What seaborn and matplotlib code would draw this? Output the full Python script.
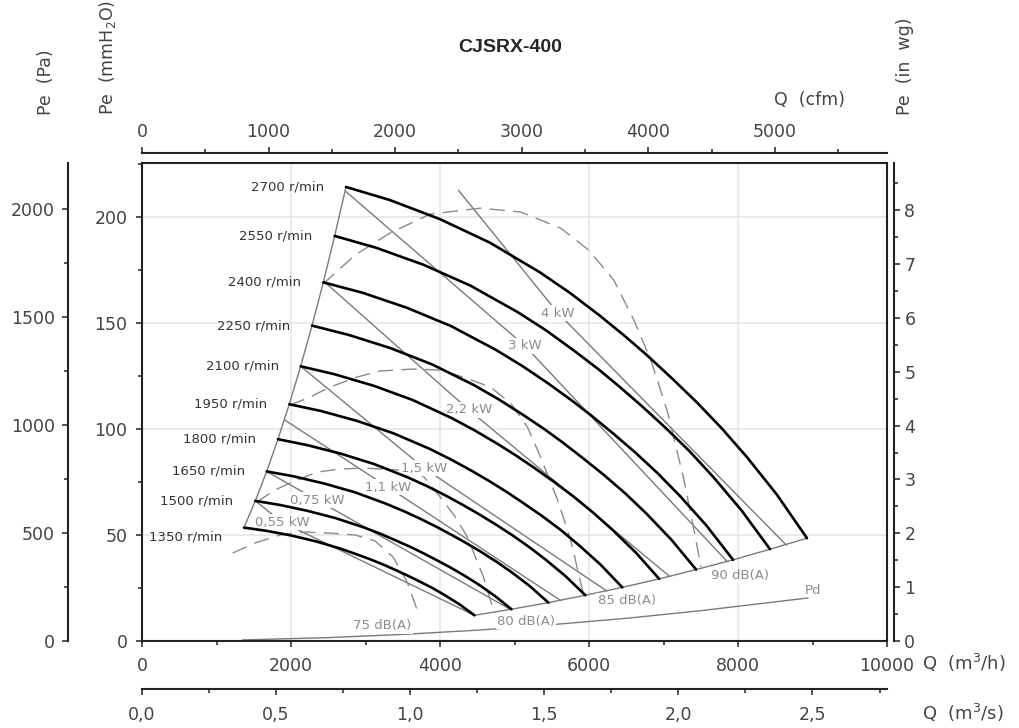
import matplotlib
matplotlib.use('Agg')
import matplotlib.pyplot as plt
from matplotlib.ticker import MultipleLocator, FuncFormatter
import pandas as pd
import seaborn as sns

# fan curves: Q in m3/h, Pe in mmH2O, one list per speed
speeds = [2700, 2550, 2400, 2250, 2100, 1950, 1800, 1650, 1500, 1350]
curve_q = [
    [2738, 3329, 4000, 4671, 5342, 5745, 6148, 6483, 6779, 7114, 7450, 7785, 8121, 8523, 8926],
    [2586, 3144, 3778, 4411, 5045, 5426, 5806, 6123, 6402, 6719, 7036, 7353, 7670, 8050, 8430],
    [2434, 2959, 3556, 4152, 4748, 5107, 5465, 5763, 6026, 6324, 6622, 6920, 7219, 7576, 7934],
    [2282, 2774, 3333, 3893, 4452, 4788, 5123, 5403, 5649, 5928, 6208, 6488, 6768, 7103, 7438],
    [2130, 2589, 3111, 3633, 4155, 4468, 4782, 5042, 5273, 5533, 5794, 6055, 6316, 6629, 6942],
    [1977, 2404, 2889, 3374, 3858, 4149, 4440, 4682, 4896, 5138, 5381, 5623, 5865, 6156, 6447],
    [1825, 2219, 2667, 3114, 3561, 3830, 4099, 4322, 4519, 4743, 4967, 5190, 5414, 5682, 5951],
    [1673, 2034, 2444, 2855, 3265, 3511, 3757, 3962, 4143, 4347, 4553, 4758, 4963, 5209, 5455],
    [1521, 1849, 2222, 2595, 2968, 3192, 3416, 3602, 3766, 3952, 4139, 4325, 4512, 4735, 4959],
    [1369, 1665, 2000, 2336, 2671, 2873, 3074, 3242, 3390, 3557, 3725, 3893, 4061, 4262, 4463],
]
curve_p = [
    [214.2, 208.0, 199.0, 187.9, 173.9, 164.2, 153.4, 143.8, 134.8, 123.9, 112.5, 100.2, 86.7, 69.0, 48.5],
    [191.1, 185.5, 177.5, 167.6, 155.1, 146.5, 136.8, 128.3, 120.2, 110.5, 100.3, 89.4, 77.3, 61.5, 43.3],
    [169.2, 164.3, 157.2, 148.5, 137.4, 129.7, 121.2, 113.6, 106.5, 97.9, 88.9, 79.2, 68.5, 54.5, 38.3],
    [148.8, 144.4, 138.2, 130.5, 120.8, 114.0, 106.5, 99.9, 93.6, 86.0, 78.1, 69.6, 60.2, 47.9, 33.7],
    [129.6, 125.8, 120.4, 113.7, 105.2, 99.3, 92.8, 87.0, 81.5, 75.0, 68.1, 60.6, 52.4, 41.7, 29.3],
    [111.7, 108.5, 103.8, 98.0, 90.7, 85.6, 80.0, 75.0, 70.3, 64.6, 58.7, 52.3, 45.2, 36.0, 25.3],
    [95.2, 92.4, 88.4, 83.5, 77.3, 73.0, 68.2, 63.9, 59.9, 55.1, 50.0, 44.5, 38.5, 30.7, 21.6],
    [80.0, 77.7, 74.3, 70.2, 64.9, 61.3, 57.3, 53.7, 50.3, 46.3, 42.0, 37.4, 32.4, 25.8, 18.1],
    [66.1, 64.2, 61.4, 58.0, 53.7, 50.7, 47.3, 44.4, 41.6, 38.2, 34.7, 30.9, 26.8, 21.3, 15.0],
    [53.5, 52.0, 49.8, 47.0, 43.5, 41.0, 38.4, 36.0, 33.7, 31.0, 28.1, 25.1, 21.7, 17.3, 12.1],
]

# absorbed power lines: start, point at the label, end
kw_labels = ['0,55 kW', '0,75 kW', '1,1 kW', '1,5 kW', '2,2 kW', '3 kW', '4 kW']
kw_q = [
    [1521, 1879, 4463],
    [1673, 2349, 4950],
    [1918, 3302, 5620],
    [2130, 3785, 6238],
    [2440, 4389, 7085],
    [2738, 5141, 7857],
    [4246, 5584, 8647],
]
kw_p = [
    [66.1, 56.1, 12.1],
    [80.0, 66.5, 14.8],
    [104.2, 72.6, 19.1],
    [129.6, 81.6, 23.6],
    [169.7, 109.0, 30.4],
    [212.0, 139.2, 37.4],
    [212.7, 154.7, 45.3],
]

# sound level lines (dashed)
db_labels = ['75 dB(A)', '80 dB(A)', '85 dB(A)', '90 dB(A)']
db_q = [
    [1218, 1514, 1851, 2187, 2524, 2860, 3129, 3371, 3560, 3694],
    [1541, 1783, 1985, 2349, 2658, 2968, 3425, 3775, 4004, 4206, 4367, 4583, 4717],
    [1985, 2227, 2524, 2887, 3197, 3641, 4004, 4314, 4677, 4946, 5175, 5350, 5579, 5754, 5929],
    [2429, 2860, 3331, 3869, 4542, 5081, 5619, 5996, 6332, 6602, 6830, 7059, 7275, 7409, 7503],
]
db_p = [
    [41.5, 46.2, 50.0, 51.4, 50.9, 50.0, 47.2, 39.6, 27.8, 14.6],
    [65.6, 71.2, 74.5, 79.7, 81.1, 81.6, 80.7, 77.8, 67.9, 58.5, 49.1, 30.2, 14.6],
    [111.3, 114.6, 119.8, 124.5, 127.4, 128.3, 127.8, 124.5, 119.8, 112.3, 100.9, 86.8, 66.5, 47.6, 21.5],
    [168.4, 182.1, 192.5, 201.4, 204.2, 202.4, 194.8, 184.4, 170.3, 151.4, 132.5, 107.5, 75.9, 52.4, 34.9],
]

# dynamic pressure
pd_q = [1350, 2500, 3500, 4500, 5500, 6500, 7500, 8940]
pd_p = [0.5, 1.6, 3.1, 5.1, 7.7, 10.7, 14.3, 20.3]

Q_MAX = 10000
P_MAX = 225.5

sns.set_style('white')
plt.rcParams['font.family'] = ['DejaVu Sans']
plt.rcParams['mathtext.fontset'] = 'dejavusans'

W, H = 1019, 728
fig = plt.figure(figsize=(W / 100, H / 100), dpi=100)


def fx(px):
    return px / W


def fy(py):
    return 1 - py / H


ax = fig.add_axes([fx(142), fy(641), fx(887) - fx(142), fy(163) - fy(641)])

tick_col = '#333333'
lab_col = '#444444'
grey = '#7a7a7a'

# long tables for seaborn
fan_df = pd.DataFrame([
    {'rpm': n, 'Q': q, 'P': p}
    for n, qs, ps in zip(speeds, curve_q, curve_p)
    for q, p in zip(qs, ps)
])
kw_df = pd.DataFrame([
    {'line': lab, 'Q': q, 'P': p}
    for lab, qs, ps in zip(kw_labels, kw_q, kw_p)
    for q, p in zip(qs, ps)
])
db_df = pd.DataFrame([
    {'line': lab, 'Q': q, 'P': p}
    for lab, qs, ps in zip(db_labels, db_q, db_p)
    for q, p in zip(qs, ps)
])
start_df = pd.DataFrame({'Q': [qs[0] for qs in curve_q], 'P': [ps[0] for ps in curve_p]})
end_df = pd.DataFrame({'Q': [qs[-1] for qs in curve_q], 'P': [ps[-1] for ps in curve_p]})
pd_df = pd.DataFrame({'Q': pd_q, 'P': pd_p})

sns.lineplot(data=kw_df, x='Q', y='P', units='line', estimator=None, sort=False,
             color=grey, linewidth=1.0, ax=ax, zorder=2)
sns.lineplot(data=db_df, x='Q', y='P', units='line', estimator=None, sort=False,
             color='#8a8a8a', linewidth=1.0, linestyle=(0, (11, 6)), ax=ax, zorder=2)
sns.lineplot(data=start_df, x='Q', y='P', sort=False, color=grey, linewidth=1.0, ax=ax, zorder=2)
sns.lineplot(data=end_df, x='Q', y='P', sort=False, color=grey, linewidth=1.0, ax=ax, zorder=2)
sns.lineplot(data=pd_df, x='Q', y='P', sort=False, color=grey, linewidth=1.0, ax=ax, zorder=2)
sns.lineplot(data=fan_df, x='Q', y='P', units='rpm', estimator=None, sort=False,
             color='black', linewidth=1.9, ax=ax, zorder=4)

# speed labels to the left of each curve start
for n, qs, ps in zip(speeds, curve_q, curve_p):
    dy = -9 if n == 1350 else 0
    ax.annotate(f'{n} r/min', (qs[0], ps[0]), xytext=(-22, dy), textcoords='offset pixels',
                ha='right', va='center', fontsize=9.5, color='#333333', zorder=5)

# power labels sit on their lines, above the thin lines but under the fan curves
for lab, qs, ps in zip(kw_labels, kw_q, kw_p):
    ax.text(qs[1], ps[1], lab, ha='center', va='center', fontsize=9.5, color='#8c8c8c',
            bbox=dict(fc='white', ec='none', pad=1.0), zorder=3)

db_pos = [(3221, 7.1), (5154, 9.4), (6510, 18.9), (8027, 31.1)]
for lab, (x, y) in zip(db_labels, db_pos):
    ax.text(x, y, lab, ha='center', va='center', fontsize=9.5, color='#8c8c8c',
            bbox=dict(fc='white', ec='none', pad=1.0), zorder=3)
ax.text(9007, 23.6, 'Pd', ha='center', va='center', fontsize=9.5, color='#8c8c8c', zorder=3)

# main axes: m3/h and mmH2O
ax.set_xlim(0, Q_MAX)
ax.set_ylim(0, P_MAX)
ax.set_xlabel('')
ax.set_ylabel('')
ax.xaxis.set_major_locator(MultipleLocator(2000))
ax.xaxis.set_minor_locator(MultipleLocator(1000))
ax.yaxis.set_major_locator(MultipleLocator(50))
ax.yaxis.set_minor_locator(MultipleLocator(25))
ax.grid(True, which='major', color='#e6e6e6', linewidth=1.2)
ax.set_axisbelow(True)
for s in ax.spines.values():
    s.set_visible(True)
    s.set_color('#222222')
    s.set_linewidth(1.5)
ax.tick_params(axis='both', which='major', direction='out', length=4.5, width=1.2,
               color=tick_col, labelcolor=lab_col, labelsize=12.5)
ax.tick_params(axis='both', which='minor', direction='out', length=3, width=1.2, color=tick_col)
ax.tick_params(axis='x', which='both', bottom=True, top=False, pad=7)
ax.tick_params(axis='y', which='both', left=True, right=False, pad=6)


def style_spine(a, side, offset_pt):
    for k, s in a.spines.items():
        s.set_visible(k == side)
    a.spines[side].set_position(('outward', offset_pt))
    a.spines[side].set_color('#222222')
    a.spines[side].set_linewidth(1.5)
    a.grid(False)


# Pa axis, far left
ax_pa = ax.twinx()
ax_pa.set_ylim(0, P_MAX * 9.80665)
style_spine(ax_pa, 'left', 53.3)
ax_pa.yaxis.set_ticks_position('left')
ax_pa.yaxis.set_major_locator(MultipleLocator(500))
ax_pa.yaxis.set_minor_locator(MultipleLocator(250))
ax_pa.tick_params(axis='y', which='major', length=4.5, width=1.2, color=tick_col,
                  labelcolor=lab_col, labelsize=12.5, pad=5)
ax_pa.tick_params(axis='y', which='minor', length=3, width=1.2, color=tick_col)

# inch water gauge, right
ax_in = ax.twinx()
ax_in.set_ylim(0, P_MAX / 25.4)
style_spine(ax_in, 'right', 5)
ax_in.yaxis.set_ticks_position('right')
ax_in.yaxis.set_major_locator(MultipleLocator(1))
ax_in.yaxis.set_minor_locator(MultipleLocator(0.5))
ax_in.tick_params(axis='y', which='major', length=4.5, width=1.2, color=tick_col,
                  labelcolor=lab_col, labelsize=12.5, pad=3)
ax_in.tick_params(axis='y', which='minor', length=3, width=1.2, color=tick_col)

# cfm, top
ax_cfm = ax.twiny()
ax_cfm.set_xlim(0, Q_MAX / 1.699)
style_spine(ax_cfm, 'top', 7)
ax_cfm.xaxis.set_ticks_position('top')
ax_cfm.xaxis.set_major_locator(MultipleLocator(1000))
ax_cfm.xaxis.set_minor_locator(MultipleLocator(500))
ax_cfm.tick_params(axis='x', which='major', length=4.5, width=1.2, color=tick_col,
                   labelcolor=lab_col, labelsize=12.5, pad=4)
ax_cfm.tick_params(axis='x', which='minor', length=3, width=1.2, color=tick_col)

# m3/s, bottom
ax_ms = ax.twiny()
ax_ms.set_xlim(0, Q_MAX / 3600)
style_spine(ax_ms, 'bottom', 34.6)
ax_ms.xaxis.set_ticks_position('bottom')
ax_ms.xaxis.set_label_position('bottom')
ax_ms.xaxis.set_major_locator(MultipleLocator(0.5))
ax_ms.xaxis.set_minor_locator(MultipleLocator(0.25))
ax_ms.xaxis.set_major_formatter(FuncFormatter(lambda v, _: f'{v:.1f}'.replace('.', ',')))
ax_ms.tick_params(axis='x', which='major', length=4.5, width=1.2, color=tick_col,
                  labelcolor=lab_col, labelsize=12.5, pad=8)
ax_ms.tick_params(axis='x', which='minor', length=3, width=1.2, color=tick_col)

# axis titles
fig.text(fx(510), fy(48), 'CJSRX-400', ha='center', va='center', fontsize=14,
         fontweight='bold', family=['Liberation Sans', 'DejaVu Sans'])
fig.text(fx(46), fy(115), 'Pe  (Pa)', rotation=90, ha='center', va='bottom',
         fontsize=12.5, color=lab_col)
fig.text(fx(107), fy(115), 'Pe  (mmH$_2$O)', rotation=90, ha='center', va='bottom',
         fontsize=12.5, color=lab_col)
fig.text(fx(905), fy(115), 'Pe  (in  wg)', rotation=90, ha='center', va='bottom',
         fontsize=12.5, color=lab_col)
fig.text(fx(810), fy(100), 'Q  (cfm)', ha='center', va='center', fontsize=12.5, color=lab_col)
fig.text(fx(922), fy(663), 'Q  (m$^3$/h)', ha='left', va='center', fontsize=13, color=lab_col)
fig.text(fx(922), fy(713), 'Q  (m$^3$/s)', ha='left', va='center', fontsize=13, color=lab_col)

fig.savefig('out.png', dpi=100)
